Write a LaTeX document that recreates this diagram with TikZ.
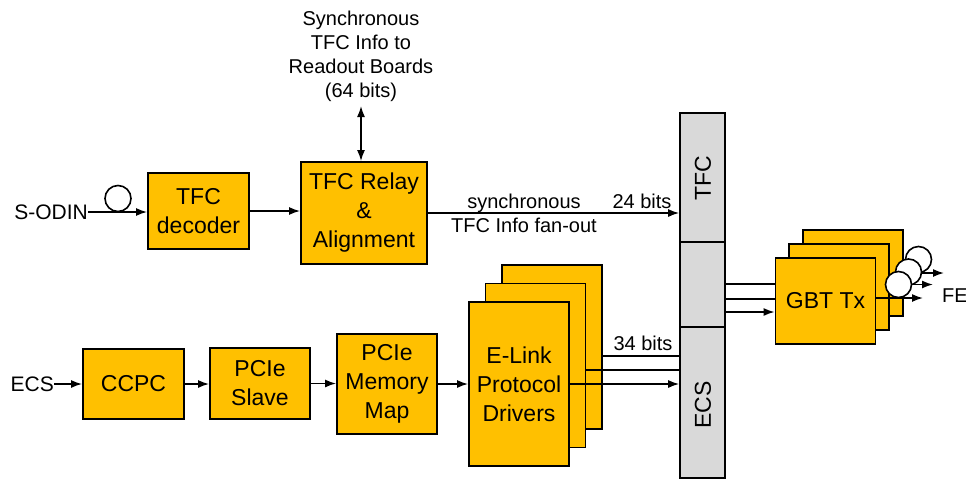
\documentclass[tikz,border=0pt]{standalone}
\usepackage{fontspec}
\setmainfont{Liberation Sans}
\usetikzlibrary{arrows.meta}
\definecolor{boxfill}{HTML}{FFC000}
\definecolor{barfill}{HTML}{D9D9D9}
\begin{document}
\begin{tikzpicture}[x=1pt,y=-1pt,
  blk/.style={draw=black, fill=boxfill, line width=1.8pt, align=center, inner sep=0pt,
    font=\fontsize{23}{29}\selectfont},
  barsec/.style={draw=black, fill=barfill, line width=1.6pt, minimum width=45pt, inner sep=0pt},
  bartext/.style={rotate=90, inner sep=0pt, font=\fontsize{23}{28}\selectfont},
  wire/.style={line width=1.6pt},
  conn/.style={line width=1.6pt, -{Latex[length=11pt,width=8pt]}},
  biconn/.style={line width=1.6pt, {Latex[length=11pt,width=8pt]}-{Latex[length=11pt,width=8pt]}},
  lbl/.style={align=center, inner sep=0pt, font=\fontsize{20}{24}\selectfont},
  inlbl/.style={inner sep=0pt, font=\fontsize{21}{24}\selectfont},
  fiber/.style={circle, draw=black, fill=white, line width=1.6pt, minimum size=26pt, inner sep=0pt},
]
\useasboundingbox (0,0) rectangle (966,483);

% ---------------- TFC path ----------------
\node[blk, minimum width=101pt, minimum height=76pt] (dec) at (198.5,211) {TFC\\decoder};
\node[blk, minimum width=126pt, minimum height=102pt] (relay) at (364,213) {TFC Relay\\\&\\Alignment};
\node[lbl] (sync) at (361,56) {Synchronous\\TFC Info to\\Readout Boards\\(64 bits)};
\coordinate (synctip) at (361,106);
\draw[biconn] (relay.north -| synctip) -- (synctip);

\node[inlbl, anchor=east] (sodin) at (88,212) {S-ODIN};
\draw[conn] (sodin.east) -- (sodin.east -| dec.west);
\node[fiber] (loopin) at (118,198.5) {};
\draw[conn] (dec.east) -- (dec.east -| relay.west);

% ---------------- interface bar ----------------
\node[barsec, minimum height=129pt] (tfcbar) at (702.5,177.5) {};
\node[barsec, minimum height=85pt] (midbar) at (702.5,284.5) {};
\node[barsec, minimum height=151pt] (ecsbar) at (702.5,402.5) {};
\node[bartext] (tfctxt) at (703,178) {TFC};
\node[bartext] (ecstxt) at (703,405) {ECS};

\draw[conn] (relay.east) -- (relay.east -| tfcbar.west);
\node[lbl, anchor=base] (fanup) at (524,208) {synchronous};
\node[lbl, anchor=base] (fandn) at (524,232.5) {TFC Info fan-out};
\node[lbl, anchor=base] (bits24) at (642,208) {24 bits};

% ---------------- ECS path ----------------
\node[inlbl, anchor=east] (ecsin) at (54,384) {ECS};
\node[blk, minimum width=101pt, minimum height=70pt] (ccpc) at (133.5,384) {CCPC};
\node[blk, minimum width=100pt, minimum height=71pt] (slave) at (260,383.5) {PCIe\\Slave};
\node[blk, minimum width=100pt, minimum height=100pt] (mmap) at (387,384) {PCIe\\Memory\\Map};
\node[blk, minimum width=100pt, minimum height=164pt] (elink3) at (552,347) {};
\node[blk, minimum width=100pt, minimum height=164pt] (elink2) at (535.5,365.5) {};
\node[blk, minimum width=100pt, minimum height=164pt] (elink1) at (519,384) {E-Link\\Protocol\\Drivers};

\draw[conn] (ecsin.east) -- (ecsin.east -| ccpc.west);
\draw[conn] (ccpc.east) -- (ccpc.east -| slave.west);
\draw[conn] (slave.east) -- (slave.east -| mmap.west);
\draw[conn] (mmap.east) -- (mmap.east -| elink1.west);

\coordinate (ya) at (0,356);
\coordinate (yb) at (0,370);
\coordinate (yc) at (0,384);
\draw[wire] (elink3.east |- ya) -- (ecsbar.west |- ya);
\draw[wire] (elink2.east |- yb) -- (ecsbar.west |- yb);
\draw[conn] (elink1.east |- yc) -- (ecsbar.west |- yc);
\node[lbl, anchor=base] (bits34) at (643,350) {34 bits};

% ---------------- GBT transmitters ----------------
\node[blk, minimum width=100pt, minimum height=86pt] (gbt3) at (853,273) {};
\node[blk, minimum width=100pt, minimum height=86pt] (gbt2) at (839,287) {};
\node[blk, minimum width=100pt, minimum height=86pt] (gbt1) at (825.5,301) {GBT Tx};

\coordinate (ga) at (0,284);
\coordinate (gb) at (0,299);
\coordinate (gc) at (0,312);
\draw[wire] (midbar.east |- ga) -- (gbt1.west |- ga);
\draw[wire] (midbar.east |- gb) -- (gbt1.west |- gb);
\draw[conn] (midbar.east |- gc) -- (gbt1.west |- gc);

\coordinate (o3) at (944,273);
\coordinate (o2) at (933,284.5);
\coordinate (o1) at (923,298);
\draw[conn] (gbt3.east |- o3) -- (o3);
\draw[conn] (gbt2.east |- o2) -- (o2);
\draw[conn] (gbt1.east |- o1) -- (o1);
\node[fiber] (fib3) at (918.5,259.5) {};
\node[fiber] (fib2) at (908.5,272) {};
\node[fiber] (fib1) at (898.5,284.5) {};
\node[lbl, anchor=west] (fe) at (942,296) {FE};
\end{tikzpicture}
\end{document}
